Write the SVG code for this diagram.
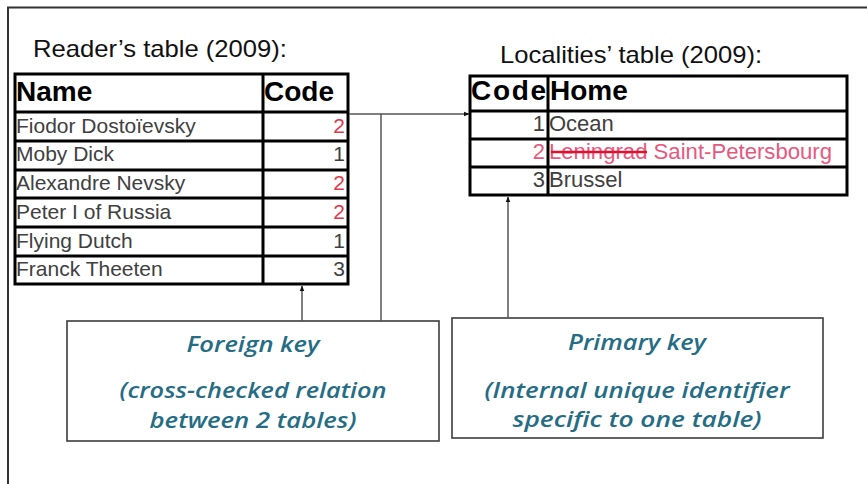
<svg xmlns="http://www.w3.org/2000/svg" width="867" height="484" viewBox="0 0 867 484">
<defs>
<marker id="arr" viewBox="0 0 10 10" refX="9" refY="5" markerWidth="6" markerHeight="6" orient="auto" markerUnits="userSpaceOnUse">
<path d="M0,1 L10,5 L0,9 z" fill="#111"/>
</marker>
</defs>
<style>
.title{font-family:"Liberation Sans",Arial,sans-serif;font-size:24px;fill:#111}
.hdr{font-family:"Liberation Sans",Arial,sans-serif;font-size:28px;font-weight:bold;fill:#000}
.cell{font-family:"Liberation Sans",Arial,sans-serif;font-size:21px;fill:#404040}
.loc{font-size:22px}
.red{fill:#e0384a}
.pink{fill:#e8587e}
.tbl{fill:none;stroke:#000;stroke-width:3}
.grid{stroke:#000;stroke-width:3}
.box{fill:#fff;stroke:#3c3c3c;stroke-width:1.6}
.note{font-family:"Open Sans","DejaVu Sans",sans-serif;font-style:italic;font-weight:600;font-size:22px;fill:#246d84;text-anchor:middle}
.conn{fill:none;stroke:#555;stroke-width:1.5}
</style>
<rect width="867" height="484" fill="#fff"/>
<path d="M8,484 V7.5 H867" fill="none" stroke="#333" stroke-width="2"/>

<g id="readers-table">
<text class="title" x="33" y="57" textLength="254" lengthAdjust="spacingAndGlyphs">Reader’s table (2009):</text>
<rect class="tbl" x="15" y="74" width="333" height="210"/>
<line class="grid" x1="263" y1="74" x2="263" y2="284"/>
<line class="grid" x1="15" y1="112" x2="348" y2="112"/>
<line class="grid" x1="15" y1="141" x2="348" y2="141"/>
<line class="grid" x1="15" y1="170" x2="348" y2="170"/>
<line class="grid" x1="15" y1="198" x2="348" y2="198"/>
<line class="grid" x1="15" y1="227" x2="348" y2="227"/>
<line class="grid" x1="15" y1="256" x2="348" y2="256"/>
<text class="hdr" x="16" y="101">Name</text>
<text class="hdr" x="264" y="101">Code</text>
<text class="cell" x="16" y="133">Fiodor Dostoïevsky</text>
<text class="cell" x="16" y="161">Moby Dick</text>
<text class="cell" x="16" y="190">Alexandre Nevsky</text>
<text class="cell" x="16" y="219">Peter I of Russia</text>
<text class="cell" x="16" y="248">Flying Dutch</text>
<text class="cell" x="16" y="276">Franck Theeten</text>
<g text-anchor="end">
<text class="cell red" x="345" y="133">2</text>
<text class="cell" x="345" y="161">1</text>
<text class="cell red" x="345" y="190">2</text>
<text class="cell red" x="345" y="219">2</text>
<text class="cell" x="345" y="248">1</text>
<text class="cell" x="345" y="276">3</text>
</g>
</g>

<g id="localities-table">
<text class="title" x="500" y="63" textLength="262" lengthAdjust="spacingAndGlyphs">Localities’ table (2009):</text>
<rect class="tbl" x="470" y="76" width="377" height="119"/>
<line class="grid" x1="548" y1="76" x2="548" y2="195"/>
<line class="grid" x1="470" y1="111" x2="847" y2="111"/>
<line class="grid" x1="470" y1="139" x2="847" y2="139"/>
<line class="grid" x1="470" y1="167" x2="847" y2="167"/>
<text class="hdr" x="471" y="100" textLength="75" lengthAdjust="spacing">Code</text>
<text class="hdr" x="550" y="100">Home</text>
<text class="cell loc" x="545" y="131" text-anchor="end">1</text>
<text class="cell loc" x="549" y="131">Ocean</text>
<text class="cell loc pink" x="545" y="159" text-anchor="end">2</text>
<text class="cell loc pink" x="549" y="159" textLength="283" lengthAdjust="spacingAndGlyphs">Leningrad Saint-Petersbourg</text>
<line x1="551" y1="152" x2="647" y2="152" stroke="#e01030" stroke-width="2.5"/>
<text class="cell loc" x="545" y="187" text-anchor="end">3</text>
<text class="cell loc" x="549" y="187">Brussel</text>
</g>

<g id="foreign-key">
<rect class="box" x="67" y="321" width="372" height="120"/>
<text class="note" x="253" y="352" textLength="133" lengthAdjust="spacingAndGlyphs">Foreign key</text>
<text class="note" x="253" y="398" textLength="267" lengthAdjust="spacingAndGlyphs">(cross-checked relation</text>
<text class="note" x="253" y="428" textLength="207" lengthAdjust="spacingAndGlyphs">between 2 tables)</text>
</g>

<g id="primary-key">
<rect class="box" x="452" y="318" width="371" height="120"/>
<text class="note" x="637" y="350" textLength="138" lengthAdjust="spacingAndGlyphs">Primary key</text>
<text class="note" x="637" y="398" textLength="305" lengthAdjust="spacingAndGlyphs">(Internal unique identifier</text>
<text class="note" x="637" y="427" textLength="249" lengthAdjust="spacingAndGlyphs">specific to one table)</text>
</g>

<g id="connectors">
<line class="conn" x1="349" y1="114" x2="469" y2="114" marker-end="url(#arr)"/>
<line class="conn" x1="381" y1="114" x2="381" y2="321"/>
<line class="conn" x1="302" y1="321" x2="302" y2="286" marker-end="url(#arr)"/>
<line class="conn" x1="508" y1="318" x2="508" y2="197" marker-end="url(#arr)"/>
</g>
</svg>
